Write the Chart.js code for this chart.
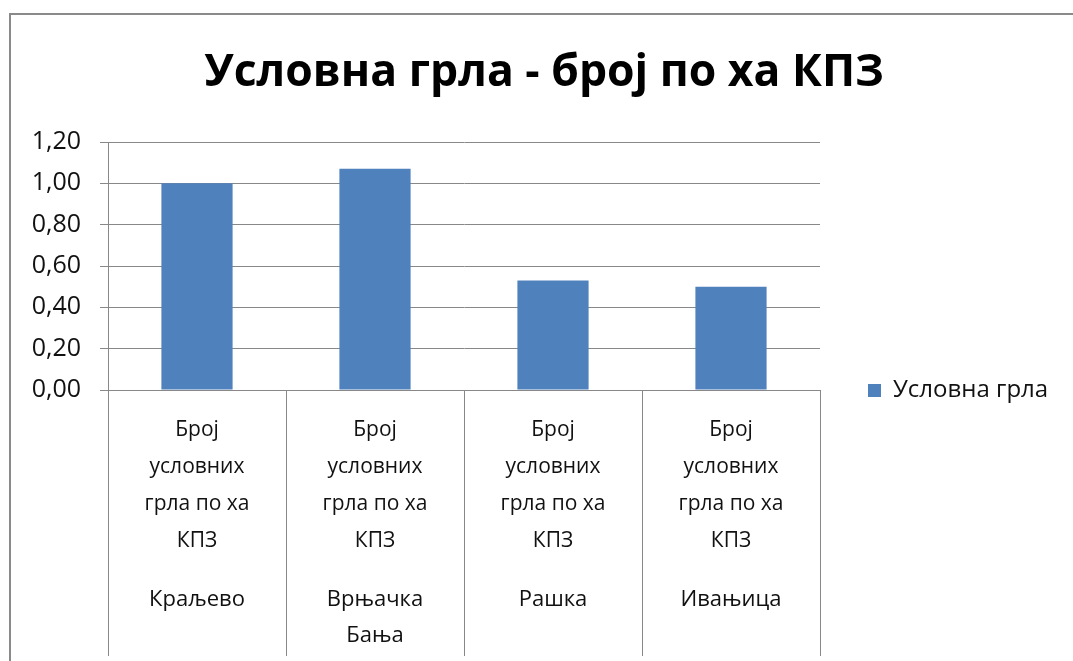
<!DOCTYPE html>
<html>
<head>
<meta charset="utf-8">
<script src="https://cdn.jsdelivr.net/npm/chart.js@4/dist/chart.umd.min.js"></script>
<style>
  html, body { margin: 0; padding: 0; background: #fff; }
  #wrap { position: relative; width: 1073px; height: 661px; }
  #frame {
    position: absolute; left: 9px; top: 13px; right: 0; bottom: 0;
    border-left: 2px solid #8a8a8a; border-top: 2px solid #8a8a8a;
    pointer-events: none;
  }
</style>
</head>
<body>
<div id="wrap">
  <canvas id="chart"></canvas>
  <div id="frame"></div>
</div>
<script>
// chart data
const measureLabel = ['Број', 'условних', 'грла по ха', 'КПЗ'];
const cities = ['Краљево', ['Врњачка', 'Бања'], 'Рашка', 'Ивањица'];
const values = [1.00, 1.07, 0.53, 0.50];
const seriesName = 'Условна грла';
const chartTitle = 'Условна грла - број по ха КПЗ';
const yTicks = { min: 0, max: 1.2, step: 0.2 };

const FONT = "'Open Sans', 'Noto Sans', sans-serif";
const GRID = '#888888';
const BAR = '#4F81BD';
const TEXT = '#111111';

// legend width must leave the plot area ending at x=820
const legendFontSize = 24;
const mctx = document.createElement('canvas').getContext('2d');
mctx.font = legendFontSize + 'px ' + FONT;
const legendTextW = mctx.measureText(seriesName).width;
const legendPad = 48;
const legendW = legendPad + 13 + legendFontSize / 2 + legendTextW + 10;
const rightPad = Math.max(0, 1073 - 820 - legendW);
// some left padding so the title sits a bit right of centre (labels are clipped past it)
const leftPad = Math.min(30, Math.max(0, 2 * 547.5 - 1073 + rightPad));

new Chart(document.getElementById('chart'), {
    type: 'bar',
    data: {
        labels: cities.map(() => measureLabel),
        datasets: [{
            label: seriesName,
            data: values,
            backgroundColor: BAR,
            borderWidth: 0,
            barPercentage: 0.4,
            categoryPercentage: 1.0,
            xAxisID: 'x'
        }]
    },
    options: {
        responsive: true,
        maintainAspectRatio: false,
        animation: false,
        layout: { padding: { left: leftPad, right: rightPad, top: 0, bottom: 0 } },
        scales: {
            x: {
                position: 'bottom',
                offset: true,
                border: { display: true, color: GRID, width: 1 },
                grid: {
                    offset: true,
                    drawOnChartArea: false,
                    drawTicks: true,
                    tickLength: 266,
                    color: GRID
                },
                ticks: {
                    autoSkip: false,
                    maxRotation: 0,
                    minRotation: 0,
                    padding: -244.5,
                    color: TEXT,
                    font: { family: FONT, size: 21, lineHeight: 37 / 21 }
                },
                afterFit: s => { s.height = 169; }
            },
            x2: {
                type: 'category',
                position: 'bottom',
                labels: cities,
                offset: true,
                border: { display: false },
                grid: { display: false, drawTicks: false },
                ticks: {
                    autoSkip: false,
                    maxRotation: 0,
                    minRotation: 0,
                    padding: 22.5,
                    color: TEXT,
                    font: { family: FONT, size: 22, lineHeight: 36 / 22 }
                },
                afterFit: s => { s.height = 102; }
            },
            y: {
                min: yTicks.min,
                max: yTicks.max,
                border: { display: true, color: GRID, width: 1 },
                grid: { color: GRID, tickLength: 8, drawTicks: true },
                ticks: {
                    stepSize: yTicks.step,
                    padding: 19,
                    color: TEXT,
                    font: { family: FONT, size: 25 },
                    callback: v => v.toFixed(2).replace('.', ',')
                },
                afterFit: s => { s.width = 108 - leftPad; }
            }
        },
        plugins: {
            title: {
                display: true,
                text: chartTitle,
                color: '#000',
                font: { family: FONT, size: 44.5, weight: 'bold', lineHeight: 1.2 },
                padding: { top: 46.3, bottom: 42.3 }
            },
            legend: {
                position: 'right',
                align: 'start',
                maxWidth: 1073 - 820,
                title: {
                    display: true,
                    text: ' ',
                    font: { size: 12, lineHeight: 1.2 },
                    padding: { top: 316, bottom: 0 }
                },
                labels: {
                    boxWidth: 13,
                    boxHeight: 13,
                    padding: legendPad,
                    color: TEXT,
                    font: { family: FONT, size: legendFontSize }
                }
            },
            tooltip: { enabled: false }
        }
    }
});
</script>
</body>
</html>
